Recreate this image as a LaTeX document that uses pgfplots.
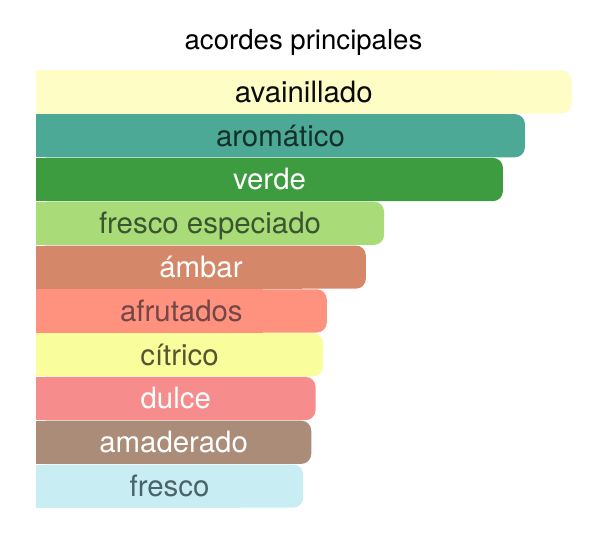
\documentclass[border=0pt]{standalone}
\usepackage{pgfplots}
\pgfplotsset{compat=1.18}
\usepackage{fontspec}
\setmainfont{TeX Gyre Heros}
\definecolor{c1}{HTML}{FFFDC6}
\definecolor{c2}{HTML}{4CA996}
\definecolor{c3}{HTML}{3C9C3F}
\definecolor{c4}{HTML}{A9DB78}
\definecolor{c5}{HTML}{D5876A}
\definecolor{c6}{HTML}{FF917F}
\definecolor{c7}{HTML}{FAFD9C}
\definecolor{c8}{HTML}{F78C8C}
\definecolor{c9}{HTML}{AA8C79}
\definecolor{c10}{HTML}{C8EEF4}
\definecolor{t1}{HTML}{0A0A0A}
\definecolor{t2}{HTML}{15302A}
\definecolor{t4}{HTML}{3A5530}
\definecolor{t6}{HTML}{744646}
\definecolor{t7}{HTML}{55552F}
\definecolor{t10}{HTML}{4A6369}
\tikzset{lab/.style={anchor=base, yshift=-10.4pt, font=\fontsize{29.4}{31}\selectfont}}
\newcommand\onebar[3]{%
  \addplot[fill=#1, draw=none, rounded corners=10pt, bar shift=0pt] coordinates {(#2,#3)};
  \addplot[fill=#1, draw=none, sharp corners, bar shift=0pt, x filter/.expression={x-12}] coordinates {(#2,#3)};
}
\begin{document}
\begin{tikzpicture}
\useasboundingbox (-36pt,-39pt) rectangle (564pt,508pt);
\begin{axis}[at={(0,0)}, anchor=south west, scale only axis,
  width=538.2pt, height=438pt,
  xmin=0, xmax=100.5, ymin=-0.5, ymax=9.5, y dir=reverse,
  hide axis, xbar, bar width=43.2pt]
\onebar{c1}{100}{0}
\onebar{c2}{91.3}{1}
\onebar{c3}{87.2}{2}
\onebar{c4}{65.0}{3}
\onebar{c5}{61.6}{4}
\onebar{c6}{54.3}{5}
\onebar{c7}{53.6}{6}
\onebar{c8}{52.2}{7}
\onebar{c9}{51.4}{8}
\onebar{c10}{49.9}{9}
\node[lab, text=t1] at (axis cs:50,0) {avainillado};
\node[lab, text=t2] at (axis cs:45.65,1) {aromático};
\node[lab, text=white] at (axis cs:43.6,2) {verde};
\node[lab, text=t4] at (axis cs:32.5,3) {fresco especiado};
\node[lab, text=white] at (axis cs:30.8,4) {ámbar};
\node[lab, text=t6] at (axis cs:27.15,5) {afrutados};
\node[lab, text=t7] at (axis cs:26.8,6) {cítrico};
\node[lab, text=white] at (axis cs:26.1,7) {dulce};
\node[lab, text=white] at (axis cs:25.7,8) {amaderado};
\node[lab, text=t10] at (axis cs:24.95,9) {fresco};
\end{axis}
\node[anchor=base, font=\fontsize{27.6}{29}\selectfont] at (267.5pt,458pt) {acordes principales};
\end{tikzpicture}
\end{document}
